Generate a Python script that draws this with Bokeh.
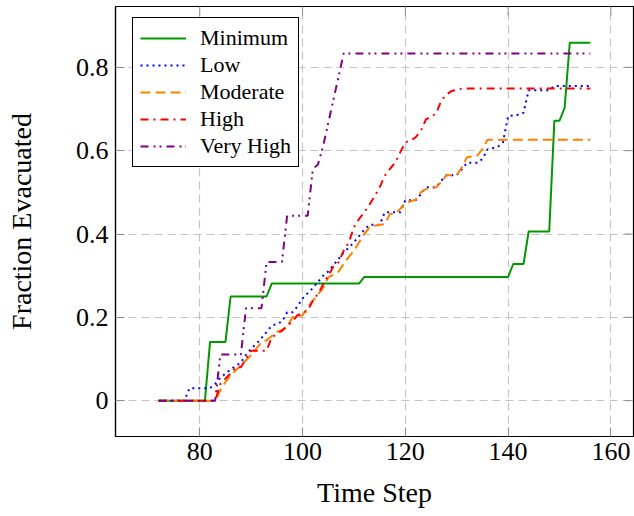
from bokeh.plotting import figure
from bokeh.models import Range1d, FixedTicker, Legend, LegendItem
from bokeh.embed import file_html
from bokeh.resources import INLINE

# ---- data ----
minimum_x = [72, 81, 82, 85, 86, 93, 94, 111, 112, 140, 141, 143, 144, 148, 149, 150, 151, 152, 156]
minimum_y = [0, 0, 0.141, 0.141, 0.25, 0.25, 0.281, 0.281, 0.297, 0.297, 0.328, 0.328, 0.406, 0.406,
             0.672, 0.672, 0.703, 0.859, 0.859]

low_x = [72, 77, 78, 82, 83, 84, 85, 86, 87, 88, 89, 90, 91, 92, 93, 94, 95, 96, 97, 98, 99, 100,
         101, 102, 103, 104, 105, 106, 107, 108, 109, 110, 111, 112, 113, 115, 116, 119, 120, 122,
         123, 124, 126, 127, 128, 130, 131, 132, 134, 135, 136, 137, 138, 139, 140, 142, 143, 144,
         148, 149, 156]
low_y = [0, 0, 0.03, 0.03, 0.04, 0.055, 0.065, 0.075, 0.083, 0.092, 0.11, 0.125, 0.136, 0.15, 0.165,
         0.18, 0.184, 0.19, 0.212, 0.212, 0.226, 0.245, 0.258, 0.27, 0.285, 0.30, 0.31, 0.325, 0.34,
         0.356, 0.367, 0.38, 0.395, 0.41, 0.422, 0.422, 0.452, 0.452, 0.481, 0.481, 0.495, 0.512,
         0.512, 0.528, 0.541, 0.541, 0.555, 0.571, 0.571, 0.58, 0.603, 0.606, 0.609, 0.62, 0.683,
         0.686, 0.691, 0.745, 0.745, 0.755, 0.755]

moderate_x = [72, 83, 84, 85, 86, 87, 88, 89, 90, 91, 92, 93, 94, 95, 96, 97, 98, 99, 100, 101, 102,
              103, 104, 105, 106, 107, 108, 109, 110, 111, 112, 113, 114, 116, 117, 118, 119, 120,
              122, 123, 124, 126, 127, 128, 130, 131, 132, 134, 135, 136, 156]
moderate_y = [0, 0, 0.025, 0.045, 0.06, 0.073, 0.085, 0.097, 0.11, 0.125, 0.14, 0.145, 0.155, 0.165,
              0.17, 0.175, 0.2, 0.202, 0.205, 0.224, 0.24, 0.255, 0.27, 0.296, 0.302, 0.31, 0.328,
              0.345, 0.36, 0.38, 0.40, 0.415, 0.42, 0.424, 0.448, 0.449, 0.46, 0.475, 0.482, 0.50,
              0.508, 0.512, 0.525, 0.541, 0.541, 0.56, 0.584, 0.588, 0.604, 0.626, 0.626]

high_x = [72, 83, 84, 85, 86, 87, 88, 89, 90, 93, 94, 95, 96, 97, 98, 99, 100, 101, 102, 103, 104,
          105, 106, 107, 108, 109, 110, 111, 112, 113, 114, 115, 116, 117, 118, 119, 120, 121, 122,
          123, 124, 125, 126, 127, 128, 129, 131, 156]
high_y = [0, 0, 0.04, 0.053, 0.065, 0.08, 0.08, 0.1, 0.12, 0.12, 0.152, 0.16, 0.168, 0.18, 0.19,
          0.205, 0.21, 0.216, 0.24, 0.256, 0.279, 0.30, 0.322, 0.332, 0.36, 0.38, 0.416, 0.436,
          0.452, 0.47, 0.49, 0.512, 0.54, 0.556, 0.571, 0.596, 0.62, 0.624, 0.632, 0.647, 0.675,
          0.681, 0.69, 0.72, 0.735, 0.743, 0.749, 0.749]

veryhigh_x = [72, 83, 84, 88, 89, 92, 93, 96, 97, 101, 102, 103, 104, 108, 156]
veryhigh_y = [0, 0, 0.111, 0.111, 0.222, 0.222, 0.333, 0.333, 0.444, 0.444, 0.556, 0.567, 0.611,
              0.833, 0.833]

x_ticks = [80, 100, 120, 140, 160]
y_ticks = [0, 0.2, 0.4, 0.6, 0.8]
y_tick_labels = {0: "0", 0.2: "0.2", 0.4: "0.4", 0.6: "0.6", 0.8: "0.8"}

FONT = "Liberation Serif"
W, H = 634, 516
BL, BR, BT, BB = 115, 1, 6, 80
X0, X1, Y0, Y1 = 63.6, 164.4, -0.086, 0.946
TICK = 9
TICK_COLOR = "#8c8c8c"

p = figure(width=W, height=H, output_backend="svg", toolbar_location=None,
           x_range=Range1d(X0, X1), y_range=Range1d(Y0, Y1),
           min_border_left=BL, min_border_right=BR, min_border_top=BT, min_border_bottom=BB)
p.background_fill_color = "white"
p.border_fill_color = "white"
p.outline_line_color = "black"
p.outline_line_width = 1.2
p.outline_line_alpha = 1

xt = FixedTicker(ticks=x_ticks, minor_ticks=[])
yt = FixedTicker(ticks=y_ticks, minor_ticks=[])

for ax in (p.xaxis[0], p.yaxis[0]):
    ax.axis_line_color = "black"
    ax.axis_line_width = 1.2
    ax.major_tick_in = TICK
    ax.major_tick_out = 0
    ax.minor_tick_in = 0
    ax.minor_tick_out = 0
    ax.major_tick_line_color = TICK_COLOR
    ax.major_label_text_font = FONT
    ax.major_label_text_font_size = "26px"
    ax.major_label_text_color = "black"
    ax.axis_label_text_font = FONT
    ax.axis_label_text_font_size = "28px"
    ax.axis_label_text_font_style = "normal"
    ax.axis_label_text_color = "black"

p.xaxis[0].ticker = xt
p.yaxis[0].ticker = yt
p.yaxis[0].major_label_overrides = y_tick_labels
p.xaxis[0].axis_label = "Time Step"
p.yaxis[0].axis_label = "Fraction Evacuated"
p.xaxis[0].major_label_standoff = 6
p.yaxis[0].major_label_standoff = 7
p.xaxis[0].axis_label_standoff = 14
p.yaxis[0].axis_label_standoff = 36

p.xgrid.ticker = xt
p.ygrid.ticker = yt
for g in (p.xgrid, p.ygrid):
    g.grid_line_color = "#c4c4c4"
    g.grid_line_dash = "8 5"
    g.grid_line_width = 1.2

# mirrored inner ticks on the top and right edges of the frame
fw = W - BL - BR
fh = H - BT - BB
dx = TICK * (X1 - X0) / fw
dy = TICK * (Y1 - Y0) / fh
p.segment(x0=[X1] * len(y_ticks), y0=y_ticks, x1=[X1 - dx] * len(y_ticks), y1=y_ticks,
          line_color=TICK_COLOR, line_width=1)
p.segment(x0=x_ticks, y0=[Y1] * len(x_ticks), x1=x_ticks, y1=[Y1 - dy] * len(x_ticks),
          line_color=TICK_COLOR, line_width=1)

r_min = p.line(minimum_x, minimum_y, line_color="#009900", line_width=2)
r_low = p.line(low_x, low_y, line_color="#0000ff", line_width=2, line_dash="2 4")
r_mod = p.line(moderate_x, moderate_y, line_color="#ff8000", line_width=2, line_dash="10 5")
r_high = p.line(high_x, high_y, line_color="#ff0000", line_width=2, line_dash="8 5 2 5")
r_vh = p.line(veryhigh_x, veryhigh_y, line_color="#800080", line_width=2, line_dash="8 5 2 4 2 5")

legend = Legend(items=[
    LegendItem(label="Minimum", renderers=[r_min]),
    LegendItem(label="Low", renderers=[r_low]),
    LegendItem(label="Moderate", renderers=[r_mod]),
    LegendItem(label="High", renderers=[r_high]),
    LegendItem(label="Very High", renderers=[r_vh]),
], location=(17, 269))
legend.label_text_font = FONT
legend.label_text_font_size = "22px"
legend.label_text_color = "black"
legend.glyph_width = 46
legend.glyph_height = 20
legend.label_height = 20
legend.spacing = 1
legend.padding = 7
legend.margin = 0
legend.label_standoff = 14
legend.border_line_color = "black"
legend.border_line_width = 1.2
legend.border_line_alpha = 1
legend.background_fill_color = "white"
legend.background_fill_alpha = 1
p.add_layout(legend)

open("out.html", "w").write(file_html(p, INLINE))
